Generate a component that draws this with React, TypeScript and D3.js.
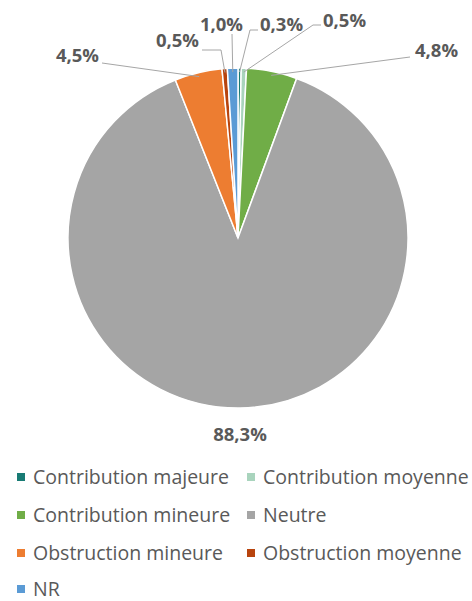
import React from "react";
import * as d3 from "d3";

const categories = [
  "Contribution majeure",
  "Contribution moyenne",
  "Contribution mineure",
  "Neutre",
  "Obstruction mineure",
  "Obstruction moyenne",
  "NR",
];
const values = [0.3, 0.5, 4.8, 88.3, 4.5, 0.5, 1.0];
const labels = ["0,3%", "0,5%", "4,8%", "88,3%", "4,5%", "0,5%", "1,0%"];
const colors = ["#187B74", "#A9D4BD", "#70AD47", "#A5A5A5", "#ED7D31", "#B8440E", "#5B9BD5"];

// label layout: text anchor point + leader elbow points (layout only)
const labelLayout: { x: number; y: number; anchor: string; pts: [number, number][] }[] = [
  { x: 260, y: 31, anchor: "start", pts: [[258, 30], [250, 30]] },
  { x: 323, y: 27, anchor: "start", pts: [[321, 25], [313, 25]] },
  { x: 415, y: 57, anchor: "start", pts: [[410, 57]] },
  { x: 240, y: 441, anchor: "middle", pts: [] },
  { x: 99, y: 62, anchor: "end", pts: [[102, 63]] },
  { x: 199, y: 47, anchor: "end", pts: [[202, 50], [221, 50]] },
  { x: 243, y: 31, anchor: "end", pts: [[232, 34]] },
];

const FONT = "'Open Sans', sans-serif";

export default function App() {
  const width = 472;
  const height = 601;
  const cx = 238;
  const cy = 238;
  const r = 170;
  const pie = d3.pie<number>().sort(null).value((d) => d);
  const arcs = pie(values);
  const arc = d3.arc<d3.PieArcDatum<number>>().innerRadius(0).outerRadius(r);
  const line = d3.line();

  const colX = [17, 247];
  const rowY = [477, 515, 553, 589];

  return (
    <svg width={width} height={height} style={{ position: "absolute", left: 0, top: 0, background: "#fff" }}>
      <g transform={`translate(${cx},${cy})`}>
        {arcs.map((a, i) => (
          <path key={i} d={arc(a) || ""} fill={colors[i]} stroke="#fff" strokeWidth={1.5} />
        ))}
      </g>
      {arcs.map((a, i) => {
        const lay = labelLayout[i];
        if (!lay.pts.length) return null;
        const mid = (a.startAngle + a.endAngle) / 2;
        const sp: [number, number] = [cx + Math.sin(mid) * (r - 4), cy - Math.cos(mid) * (r - 4)];
        const pts: [number, number][] = [...lay.pts, sp];
        return <path key={i} d={line(pts) || ""} fill="none" stroke="#A6A6A6" strokeWidth={1} />;
      })}
      {arcs.map((a, i) => {
        const lay = labelLayout[i];
        return (
          <text
            key={i}
            x={lay.x}
            y={lay.y}
            textAnchor={lay.anchor}
            fontFamily={FONT}
            fontWeight="bold"
            fontSize={18.5}
            fill="#595959"
          >
            {labels[i]}
          </text>
        );
      })}
      {categories.map((c, i) => {
        const col = i % 2;
        const row = Math.floor(i / 2);
        return (
          <g key={c} transform={`translate(${colX[col]},${rowY[row]})`}>
            <rect x={0} y={-4} width={8} height={8} fill={colors[i]} />
            <text x={16} y={7} fontFamily={FONT} fontSize={19.5} fill="#595959">
              {c}
            </text>
          </g>
        );
      })}
    </svg>
  );
}
